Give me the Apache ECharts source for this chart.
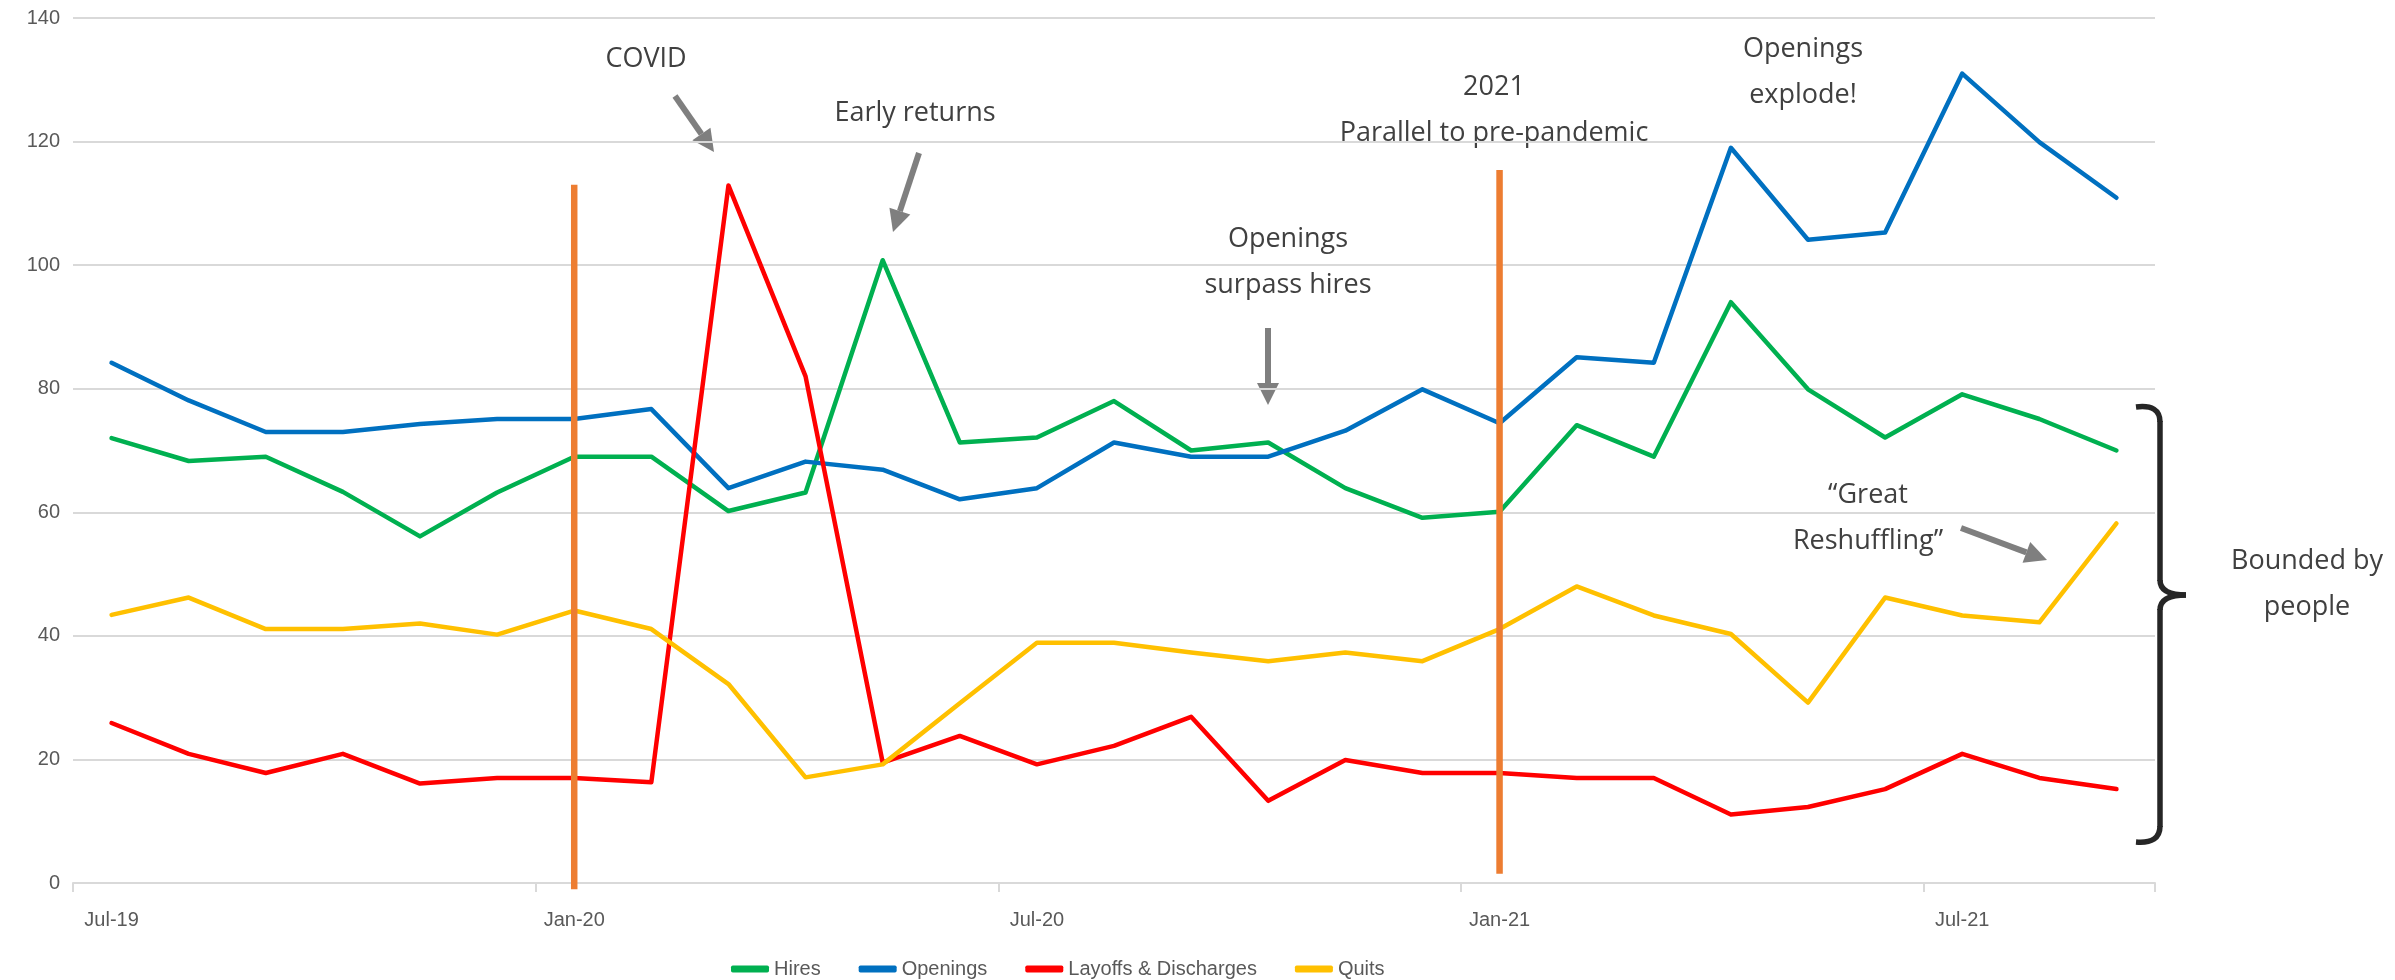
<!DOCTYPE html>
<html>
<head>
<meta charset="utf-8">
<script src="https://cdn.jsdelivr.net/npm/echarts@6/dist/echarts.min.js"></script>
<style>
  html, body { margin: 0; padding: 0; background: #ffffff; }
  #chart { width: 2395px; height: 980px; }
</style>
</head>
<body>
<div id="chart"></div>
<script>
// ---- data ----
const categories = ['Jul-19','Aug-19','Sep-19','Oct-19','Nov-19','Dec-19','Jan-20','Feb-20','Mar-20','Apr-20','May-20','Jun-20',
  'Jul-20','Aug-20','Sep-20','Oct-20','Nov-20','Dec-20','Jan-21','Feb-21','Mar-21','Apr-21','May-21','Jun-21','Jul-21','Aug-21','Sep-21'];
const hires    = [72.0,68.3,69.0,63.3,56.1,63.2,69.0,69.0,60.2,63.2,100.8,71.3,72.1,78.0,70.0,71.3,63.9,59.1,60.1,74.1,69.0,94.0,79.9,72.1,79.1,75.1,70.0];
const openings = [84.2,78.1,73.0,73.0,74.3,75.1,75.1,76.7,63.9,68.2,66.9,62.1,63.9,71.3,69.0,69.0,73.2,79.9,74.4,85.1,84.2,119.0,104.1,105.3,131.0,119.9,110.9];
const layoffs  = [25.9,20.9,17.8,20.9,16.1,17.0,17.0,16.3,112.9,82.0,19.5,23.8,19.2,22.2,26.9,13.3,19.9,17.8,17.8,17.0,17.0,11.1,12.3,15.2,20.9,17.0,15.2];
const quits    = [43.4,46.2,41.1,41.1,42.0,40.2,44.1,41.1,32.2,17.1,19.2,29.1,38.9,38.9,37.3,35.9,37.3,35.9,41.1,48.0,43.3,40.3,29.2,46.2,43.3,42.2,58.2];
const seriesNames = ['Hires','Openings','Layoffs & Discharges','Quits'];
// vertical orange marker lines (category, low value, high value)
const markerCats = ['Jan-20','Jan-21'];
const markerLow  = [-1, 1.5];
const markerHigh = [113, 115.4];
// y ticks
const yMin = 0, yMax = 140, yStep = 20;

// ---- styles ----
const colors = ['#00B050','#0070C0','#FF0000','#FFC000'];
const annColor = '#404040';
const annFont = '"Open Sans", sans-serif';
const braceStyle = { stroke: '#262626', lineWidth: 5.5, fill: null };

function arrow(x1, y1, x2, y2) {
  const dx = x2 - x1, dy = y2 - y1;
  const len = Math.sqrt(dx*dx + dy*dy);
  const ux = dx/len, uy = dy/len;
  const L = 22, W = 11;
  const bx = x2 - ux*L, by = y2 - uy*L;
  const px = -uy, py = ux;
  return {
    type: 'group',
    children: [
      { type: 'line', shape: { x1: x1, y1: y1, x2: bx, y2: by }, style: { stroke: '#7F7F7F', lineWidth: 6 } },
      { type: 'polygon', shape: { points: [[x2, y2], [bx + px*W, by + py*W], [bx - px*W, by - py*W]] }, style: { fill: '#7F7F7F' } }
    ]
  };
}
function note(text, x, y) {
  return { type: 'text', style: { text: text, x: x, y: y, align: 'center', verticalAlign: 'middle',
    fontSize: 27, fontFamily: annFont, fill: annColor, lineHeight: 46 } };
}
function curve(x1, y1, cx, cy, x2, y2) {
  return { type: 'bezierCurve', shape: { x1: x1, y1: y1, cpx1: cx, cpy1: cy, x2: x2, y2: y2 }, style: braceStyle };
}
function seg(x1, y1, x2, y2) {
  return { type: 'line', shape: { x1: x1, y1: y1, x2: x2, y2: y2 }, style: braceStyle };
}

const series = [hires, openings, layoffs, quits].map((d, i) => ({
  name: seriesNames[i], type: 'line', data: d, symbol: 'none',
  lineStyle: { color: colors[i], width: 4.5, cap: 'round', join: 'round' },
  itemStyle: { color: colors[i] }, z: 3
}));
markerCats.forEach((c, i) => {
  series.push({
    name: 'marker' + i, type: 'line', symbol: 'none', clip: false, z: 5,
    data: [[c, markerLow[i]], [c, markerHigh[i]]],
    lineStyle: { color: '#ED7D31', width: 6.5, cap: 'butt' }, silent: true
  });
});

const chart = echarts.init(document.getElementById('chart'));
chart.setOption({
  animation: false,
  backgroundColor: '#ffffff',
  grid: { left: 73, right: 240, top: 18, bottom: 97, containLabel: false },
  legend: {
    data: seriesNames, left: 726, top: 954, itemWidth: 38, itemHeight: 7, itemGap: 38,
    icon: 'roundRect',
    textStyle: { color: '#595959', fontSize: 20, fontFamily: '"Liberation Sans", Arial, sans-serif' }
  },
  xAxis: {
    type: 'category', data: categories, boundaryGap: true,
    axisLine: { lineStyle: { color: '#D9D9D9', width: 2 } },
    axisTick: { show: true, interval: 5, alignWithLabel: false, length: 9, lineStyle: { color: '#D9D9D9', width: 2 } },
    axisLabel: { interval: 5, color: '#595959', fontSize: 20, fontFamily: '"Liberation Sans", Arial, sans-serif', margin: 27 },
    splitLine: { show: false }
  },
  yAxis: {
    type: 'value', min: yMin, max: yMax, interval: yStep,
    axisLine: { show: false }, axisTick: { show: false },
    axisLabel: { color: '#595959', fontSize: 20, fontFamily: '"Liberation Sans", Arial, sans-serif', margin: 13 },
    splitLine: { lineStyle: { color: '#D9D9D9', width: 2 } }
  },
  series: series,
  graphic: [
    note('COVID', 646, 59),
    arrow(675, 96, 714, 152),
    note('Early returns', 915, 113),
    arrow(919, 153, 893, 232),
    note('Openings\nsurpass hires', 1288, 262),
    arrow(1268, 328, 1268, 405),
    note('2021\nParallel to pre-pandemic', 1494, 110),
    note('Openings\nexplode!', 1803, 72),
    note('\u201cGreat\nReshuffling\u201d', 1868, 518),
    arrow(1961, 528, 2047, 560),
    { type: 'group', children: [
      curve(2136, 407, 2160, 404, 2160, 422),
      seg(2160, 421, 2160, 581),
      curve(2160, 580, 2160, 595, 2186, 595),
      curve(2186, 595, 2160, 595, 2160, 610),
      seg(2160, 609, 2160, 827),
      curve(2160, 826, 2160, 844, 2136, 842)
    ] },
    note('Bounded by\npeople', 2307, 584)
  ]
});
</script>
</body>
</html>
